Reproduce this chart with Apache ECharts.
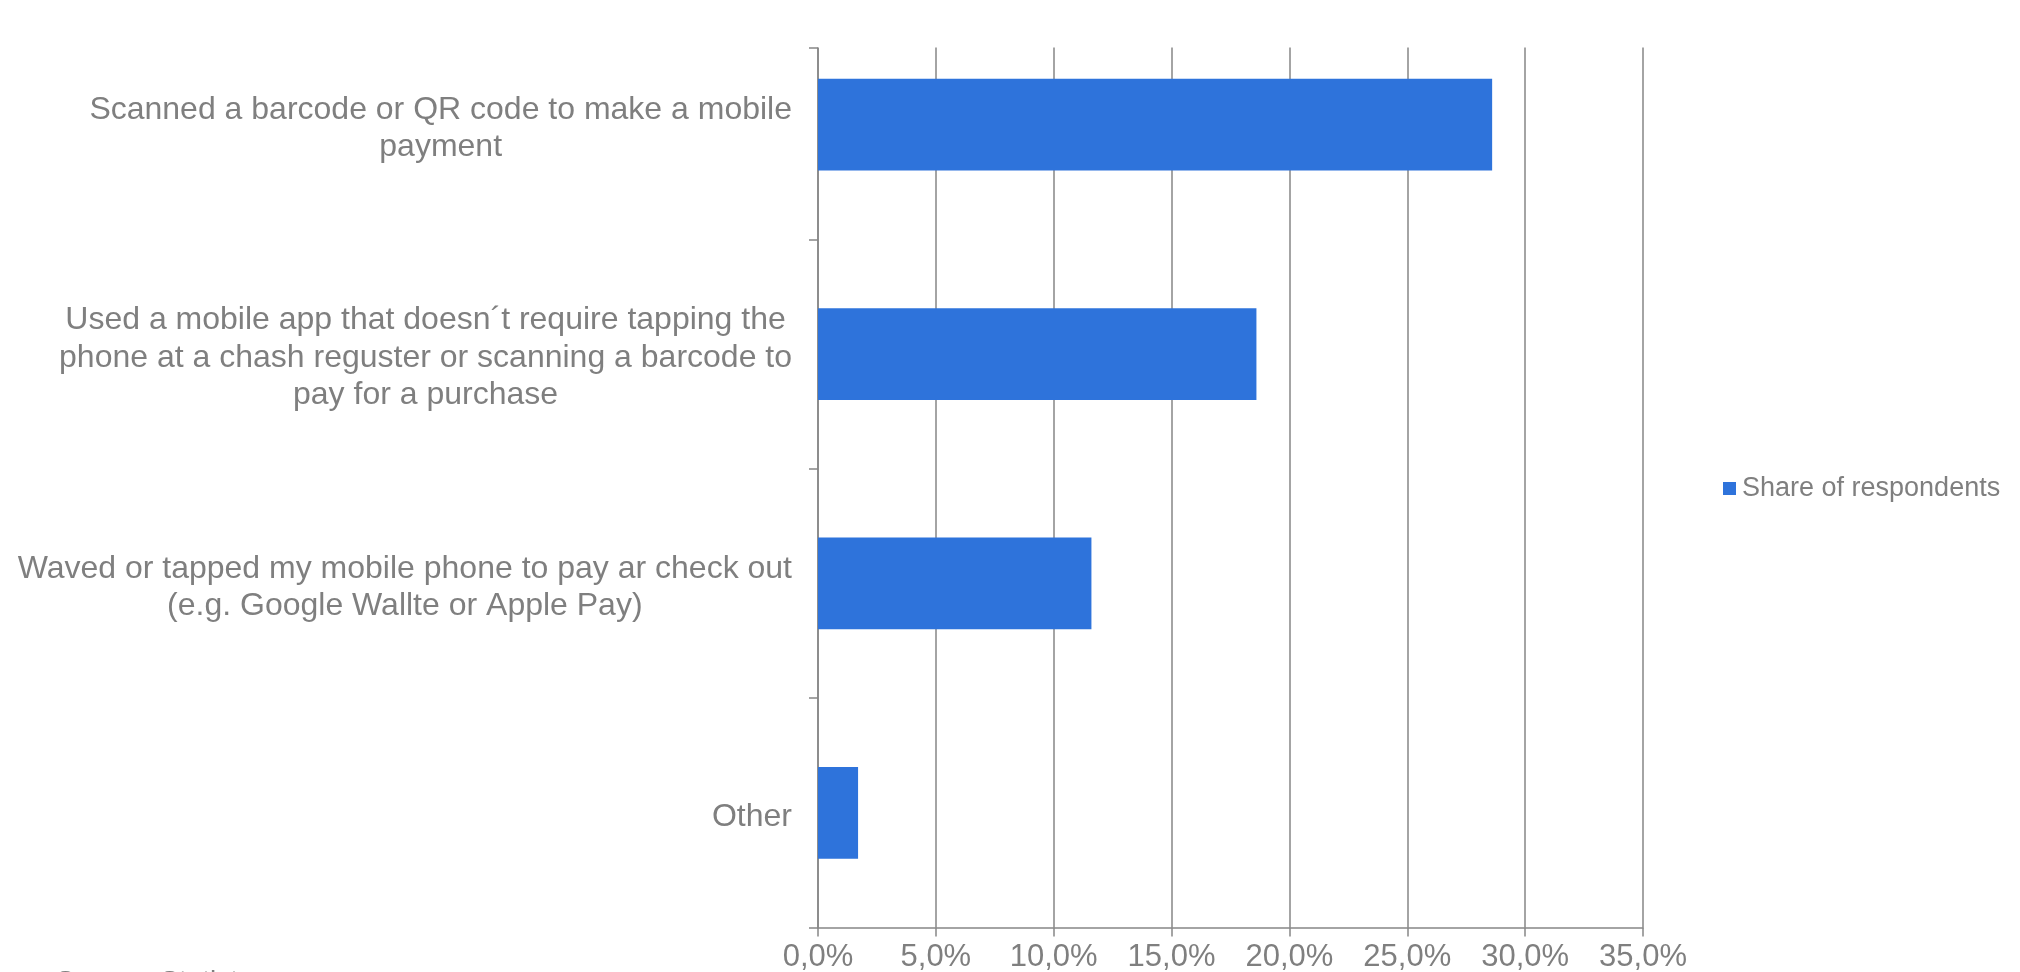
<!DOCTYPE html>
<html>
<head>
<meta charset="utf-8">
<script src="https://cdn.jsdelivr.net/npm/echarts@6/dist/echarts.min.js"></script>
<style>
  html, body { margin: 0; padding: 0; background: #ffffff; }
  #chart { width: 2020px; height: 972px; }
</style>
</head>
<body>
<div id="chart"></div>
<script>
// Payment methods (one line per array entry, top to bottom)
const categories = [
  'Scanned a barcode or QR code to make a mobile\npayment',
  'Used a mobile app that doesn\u00b4t require tapping the\nphone at a chash reguster or scanning a barcode to\npay for a purchase',
  'Waved or tapped my mobile phone to pay ar check out\n(e.g. Google Wallte or Apple Pay)',
  'Other'
];
// Share of respondents, in percent
const shareValues = [28.6, 18.6, 11.6, 1.7];
const seriesName = 'Share of respondents';
// Value axis tick labels (0 to 35 in steps of 5)
const xTickLabels = ['0,0%', '5,0%', '10,0%', '15,0%', '20,0%', '25,0%', '30,0%', '35,0%'];
const sourceNote = 'Source: Statista';

const TEXT = '#7f7f7f';
const LINE = '#868686';
const FONT = "'Liberation Sans', Arial, sans-serif";

// plot frame
const plotLeft = 818, plotRight = 1643, plotBottom = 927.5;
const bandTop = 10;       // first band starts above the visible frame
const frameTop = 48;      // visible top of the plot frame

const chart = echarts.init(document.getElementById('chart'), null, { renderer: 'canvas' });

const option = {
  backgroundColor: '#ffffff',
  animation: false,
  textStyle: { fontFamily: FONT },
  grid: {
    left: plotLeft,
    right: 2020 - plotRight,
    top: bandTop,
    bottom: 972 - plotBottom,
    containLabel: false,
    outerBoundsMode: 'none'
  },
  legend: {
    data: [seriesName],
    left: 1723,
    top: 475,
    icon: 'rect',
    itemWidth: 13,
    itemHeight: 13,
    padding: 0,
    textStyle: { color: TEXT, fontSize: 27, fontFamily: FONT, padding: [0, 0, 0, 1] }
  },
  xAxis: {
    type: 'value',
    min: 0,
    max: 35,
    interval: 5,
    axisLine: { show: true, lineStyle: { color: LINE, width: 1.5 } },
    axisTick: { show: true, length: 9, lineStyle: { color: LINE, width: 1.5 } },
    splitLine: { show: true, lineStyle: { color: LINE, width: 1.5 } },
    axisLabel: {
      color: TEXT,
      fontSize: 31,
      lineHeight: 31,
      fontFamily: FONT,
      margin: 14,
      formatter: v => xTickLabels[Math.round(v / 5)]
    }
  },
  yAxis: {
    type: 'category',
    inverse: true,
    data: categories,
    axisLine: { show: true, lineStyle: { color: LINE, width: 1.5 } },
    axisTick: { show: true, length: 9, lineStyle: { color: LINE, width: 1.5 } },
    splitLine: { show: false },
    axisLabel: {
      color: TEXT,
      fontSize: 32,
      lineHeight: 37.5,
      fontFamily: FONT,
      margin: 26,
      align: 'right',
      padding: [8, 0, 0, 0],
      formatter: v => v.split('\n').map(l => '{c|' + l + '}').join('\n'),
      rich: {
        c: { align: 'center', color: TEXT, fontSize: 32, lineHeight: 37.5, fontFamily: FONT }
      }
    }
  },
  series: [{
    name: seriesName,
    type: 'bar',
    data: shareValues,
    barWidth: '40%',
    itemStyle: { color: '#2e73db' }
  }],
  graphic: [
    {
      // hides the part of the frame above its visible top
      type: 'rect',
      left: plotLeft - 14,
      top: 0,
      shape: { width: plotRight - plotLeft + 24, height: frameTop - 0.5 },
      style: { fill: '#ffffff' },
      z: 100
    },
    {
      type: 'line',
      shape: { x1: plotLeft - 9, y1: frameTop, x2: plotLeft, y2: frameTop },
      style: { stroke: LINE, lineWidth: 1.5 },
      z: 101
    },
    {
      type: 'text',
      left: 56,
      top: 968,
      style: { text: sourceNote, fill: TEXT, fontSize: 28, fontFamily: FONT },
      z: 101
    }
  ]
};

chart.setOption(option);
</script>
</body>
</html>
